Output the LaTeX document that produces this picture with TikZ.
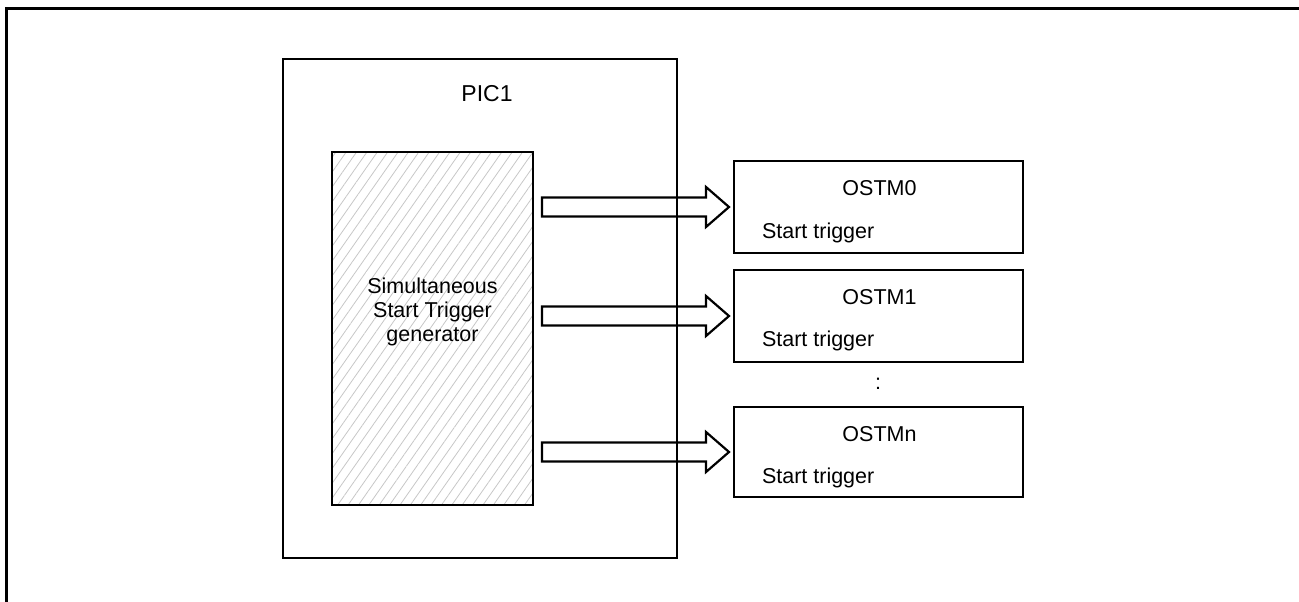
\documentclass[tikz,border=0pt]{standalone}
\usepackage{fontspec}
\setmainfont{Liberation Sans}
\usetikzlibrary{calc,patterns.meta}

\tikzset{
  every node/.style={font=\fontsize{21.5}{24}\selectfont, inner sep=0pt, outer sep=0pt},
  block/.style={draw, line width=2.2pt, rectangle},
  hatched/.style={block, pattern={Lines[angle=55,distance=8.5pt,line width=0.8pt]}, pattern color=black!22},
  ostm/.style={block, minimum width=289pt, minimum height=92pt},
  bigarrow/.style={draw, line width=2.2pt, line join=miter}
}

\begin{document}
\begin{tikzpicture}[x=1pt,y=-1pt]
    \useasboundingbox (0,0) rectangle (1299,602);
    % outer frame, only top and left edges are in view
    \draw[line width=3pt] (6,640) -- (6,9) -- (1340,9);

    \node[block, minimum width=394pt, minimum height=499pt] (pic1) at (480,308.5) {};
    \node[anchor=base, font=\fontsize{23}{26}\selectfont] (pictitle) at (487,101) {PIC1};

    \node[hatched, minimum width=201pt, minimum height=353pt] (gen) at (432.5,328.5) {};
    \node[align=center] (gentext) at (432.5,312) {Simultaneous\\Start Trigger\\generator};

    \node[ostm] (ostm0) at (878.5,207) {};
    \node[ostm] (ostm1) at (878.5,316) {};
    \node[ostm, minimum height=90pt] (ostmn) at (878.5,452) {};

    \node[anchor=base] (name0) at ($(ostm0.north)+(1,34)$) {OSTM0};
    \node[anchor=base west] (trig0) at ($(ostm0.north west)+(28,77)$) {Start trigger};
    \node[anchor=base] (name1) at ($(ostm1.north)+(1,34)$) {OSTM1};
    \node[anchor=base west] (trig1) at ($(ostm1.north west)+(28,76)$) {Start trigger};
    \node[anchor=base] (dots) at (878,389) {:};
    \node[anchor=base] (namen) at ($(ostmn.north)+(1,34)$) {OSTMn};
    \node[anchor=base west] (trign) at ($(ostmn.north west)+(28,76)$) {Start trigger};

    % hollow arrows from the generator to each timer
    \foreach \k in {0,1,n} {
      \coordinate (a\k) at ($(gen.east |- ostm\k.west)+(9,0)$);
      \coordinate (b\k) at ($(ostm\k.west)+(-5,0)$);
      \draw[bigarrow] ($(a\k)+(0,-9.5)$) -- ($(b\k)+(-23,-9.5)$) -- ($(b\k)+(-23,-20)$)
        -- (b\k) -- ($(b\k)+(-23,20)$) -- ($(b\k)+(-23,9.5)$) -- ($(a\k)+(0,9.5)$) -- cycle;
    }
\end{tikzpicture}
\end{document}
